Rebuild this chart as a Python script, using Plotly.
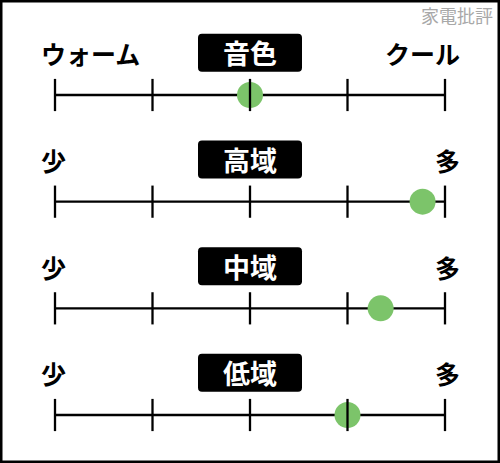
import plotly.graph_objects as go

titles = ["音色", "高域", "中域", "低域"]
left_labels = ["ウォーム", "少", "少", "少"]
right_labels = ["クール", "多", "多", "多"]
values = [2.0, 3.77, 3.34, 3.0]
tick_values = [0, 1, 2, 3, 4]

W, H = 500, 463
FONT = "Noto Sans CJK JP"
GREEN = "#7cc46a"

px_per_unit = (445 - 55) / 4
row_px = (415 - 95) / 3
x0 = -55 / px_per_unit
x1 = 4 + (W - 445) / px_per_unit
y_top = -95 / row_px
y_bot = (H - 95) / row_px

fig = go.Figure()

# axis lines
for i in range(len(titles)):
    fig.add_trace(go.Scatter(x=[tick_values[0], tick_values[-1]], y=[i, i], mode="lines",
                             line=dict(color="black", width=2.3), hoverinfo="skip", showlegend=False))
# dots
fig.add_trace(go.Scatter(x=values, y=list(range(len(titles))), mode="markers",
                         marker=dict(size=26, color=GREEN, line=dict(width=0)),
                         hoverinfo="skip", showlegend=False))
# ticks
for i in range(len(titles)):
    fig.add_trace(go.Scatter(x=tick_values, y=[i] * len(tick_values), mode="markers",
                             marker=dict(symbol="line-ns", size=23, line=dict(color="black", width=2.3)),
                             hoverinfo="skip", showlegend=False))


def rounded_box(cx, cy, w_px, h_px, r_px):
    # rounded rectangle path in data units around (cx, cy)
    hw = w_px / 2 / px_per_unit
    hh = h_px / 2 / row_px
    rx = r_px / px_per_unit
    ry = r_px / row_px
    l, r, t, b = cx - hw, cx + hw, cy - hh, cy + hh
    return (f"M {l + rx},{t} L {r - rx},{t} Q {r},{t} {r},{t + ry} "
            f"L {r},{b - ry} Q {r},{b} {r - rx},{b} L {l + rx},{b} "
            f"Q {l},{b} {l},{b - ry} L {l},{t + ry} Q {l},{t} {l + rx},{t} Z")


shapes = []
annotations = []
for i, t in enumerate(titles):
    shapes.append(dict(type="path", xref="x", yref="y", path=rounded_box(2, i - 0.395, 104, 38, 4),
                       fillcolor="black", line=dict(width=0), layer="below"))
    annotations.append(dict(x=2, y=i - 0.395, xref="x", yref="y", text="<b>" + t + "</b>",
                            showarrow=False, font=dict(family=FONT, size=27, color="white"),
                            xanchor="center", yanchor="middle"))
    annotations.append(dict(x=39 / W, y=i - 0.39, xref="paper", yref="y", text="<b>" + left_labels[i] + "</b>",
                            showarrow=False, font=dict(family=FONT, size=25, color="black"),
                            xanchor="left", yanchor="middle"))
    annotations.append(dict(x=462 / W, y=i - 0.39, xref="paper", yref="y", text="<b>" + right_labels[i] + "</b>",
                            showarrow=False, font=dict(family=FONT, size=25, color="black"),
                            xanchor="right", yanchor="middle"))
annotations.append(dict(x=495 / W, y=1 - 15 / H, xref="paper", yref="paper", text="家電批評",
                        showarrow=False, font=dict(family=FONT, size=18, color="#a8a8a8"),
                        xanchor="right", yanchor="middle"))
shapes.append(dict(type="rect", xref="paper", yref="paper", x0=0, y0=0, x1=1, y1=1,
                   line=dict(color="black", width=5), layer="above"))

fig.update_layout(
    width=W, height=H,
    margin=dict(l=0, r=0, t=0, b=0),
    paper_bgcolor="white", plot_bgcolor="rgba(0,0,0,0)",
    xaxis=dict(range=[x0, x1], visible=False, fixedrange=True),
    yaxis=dict(range=[y_bot, y_top], visible=False, fixedrange=True),
    annotations=annotations,
    shapes=shapes,
)

fig.write_html("out.html", config={"displayModeBar": False},
               post_script="document.body.style.margin='0';document.body.style.overflow='hidden';")
